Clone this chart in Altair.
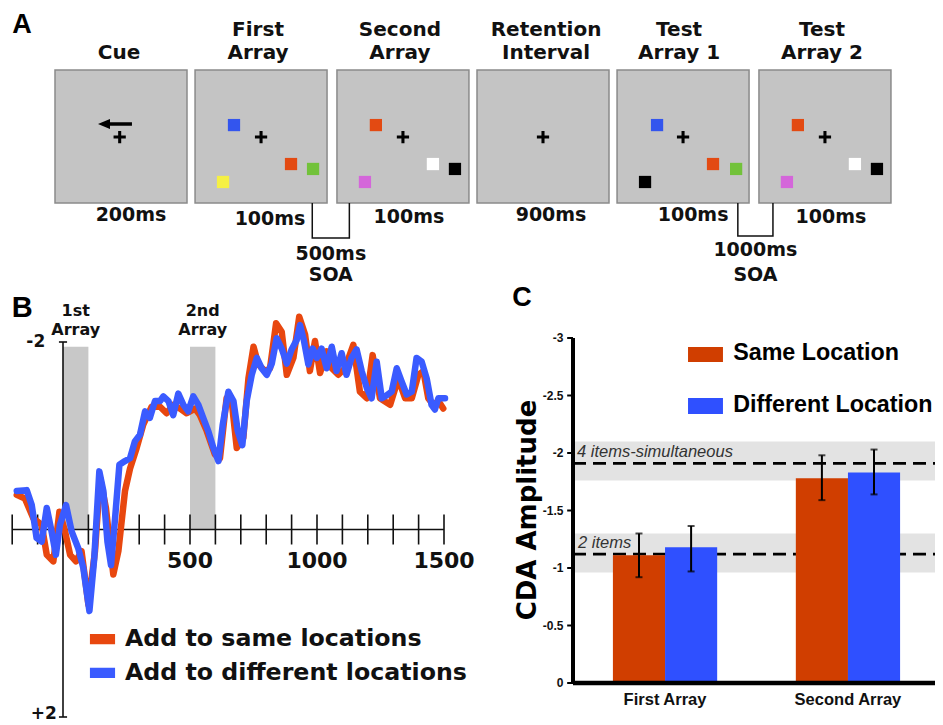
import altair as alt
import pandas as pd

# ======================= DATA =======================
# ---- Panel A: task schematic (box units: 1 = one frame width) ----
frame_left = [0.0, 1.061, 2.136, 3.197, 4.258, 5.333]
frame_title_top = ["", "First", "Second", "Retention", "Test", "Test"]
frame_title_bottom = ["Cue", "Array", "Array", "Interval", "Array 1", "Array 2"]
frame_title_rx = [0.485, 0.477, 0.477, 0.523, 0.470, 0.477]
frame_duration = ["200ms", "100ms", "100ms", "900ms", "100ms", "100ms"]
duration_rx = [0.576, 0.568, 0.545, 0.561, 0.576, 0.545]
duration_ry = [1.090, 1.124, 1.109, 1.087, 1.087, 1.105]

item_frame = [1, 1, 1, 1, 2, 2, 2, 2, 4, 4, 4, 4, 5, 5, 5, 5]
item_rx = [0.295, 0.727, 0.894, 0.212, 0.295, 0.727, 0.894, 0.212,
           0.303, 0.727, 0.902, 0.212, 0.295, 0.727, 0.894, 0.212]
item_ry = [0.414, 0.707, 0.744, 0.842, 0.414, 0.707, 0.744, 0.842,
           0.414, 0.707, 0.744, 0.842, 0.414, 0.707, 0.744, 0.842]
item_color = ["#3355EE", "#E34A12", "#72C23A", "#F5F044",
              "#E34A12", "#FFFFFF", "#000000", "#D466DA",
              "#3355EE", "#E34A12", "#72C23A", "#000000",
              "#E34A12", "#FFFFFF", "#000000", "#D466DA"]
fixation_rx = [0.49, 0.5, 0.5, 0.5, 0.5, 0.5]
fixation_ry = [0.504, 0.504, 0.504, 0.504, 0.504, 0.504]
cue_head_rx, cue_shaft_rx, cue_tail_rx, cue_arrow_ry = 0.371, 0.40, 0.583, 0.406

soa_left_frame = [1, 4]
soa_left_rx = [0.888, 0.915]
soa_right_frame = [2, 5]
soa_right_rx = [0.094, 0.106]
soa_bottom_ry = [1.263, 1.248]
soa_label_top = ["500ms", "1000ms"]
soa_label_bottom = ["SOA", "SOA"]
soa_label_ry_top = [1.380, 1.357]
soa_label_ry_bottom = [1.545, 1.538]

# ---- Panel B: CDA waveforms (ms, microvolts; negative up) ----
diff_t = [-182, -143, -123, -104, -84, -64, -45, -28, -12, 12, 34, 60, 80, 104, 123, 143,
          159, 175, 189, 205, 222, 244, 264, 283, 303, 323, 342, 362, 382, 395, 415, 434,
          454, 474, 493, 513, 533, 552, 572, 592, 612, 629, 651, 671, 688, 706, 723, 743,
          763, 782, 802, 822, 841, 861, 881, 900, 920, 933, 949, 966, 983, 999, 1018, 1038,
          1058, 1077, 1097, 1116, 1136, 1156, 1176, 1196, 1215, 1235, 1255, 1274, 1294, 1314,
          1333, 1353, 1373, 1392, 1412, 1432, 1451, 1464, 1478, 1504]
diff_v = [-0.41, -0.42, -0.26, 0.09, 0.13, -0.23, 0.02, 0.27, -0.05, -0.26, 0.02, 0.20, 0.41,
          0.87, 0.31, -0.62, -0.41, 0.13, 0.38, -0.12, -0.69, -0.73, -0.76, -0.94, -1.01, -1.26,
          -1.19, -1.37, -1.37, -1.42, -1.37, -1.22, -1.45, -1.33, -1.26, -1.42, -1.33, -1.19,
          -1.05, -0.87, -0.73, -1.12, -1.47, -1.37, -1.05, -0.90, -1.37, -1.65, -1.83, -1.72,
          -1.65, -1.77, -2.04, -1.93, -1.77, -1.92, -2.02, -2.18, -2.01, -1.76, -1.93, -1.83,
          -1.93, -1.72, -1.95, -1.69, -1.88, -1.65, -1.83, -1.92, -1.69, -1.51, -1.40, -1.79,
          -1.40, -1.43, -1.47, -1.72, -1.58, -1.44, -1.47, -1.83, -1.79, -1.61, -1.33, -1.28,
          -1.40, -1.40]
same_t = [-182, -150, -117, -84, -64, -38, -14, 8, 28, 51, 73, 100, 126, 146, 169, 198, 218,
          244, 264, 290, 316, 349, 382, 408, 434, 461, 487, 520, 539, 566, 598, 618, 644, 664,
          684, 710, 730, 750, 769, 796, 815, 839, 861, 881, 907, 930, 953, 972, 992, 1012,
          1038, 1058, 1084, 1110, 1143, 1169, 1196, 1219, 1248, 1288, 1320, 1347, 1373, 1399,
          1419, 1438, 1458, 1478, 1497]
same_v = [-0.37, -0.33, -0.12, -0.05, 0.27, 0.34, -0.19, 0.02, 0.27, 0.34, 0.23, 0.80, 0.23,
          -0.55, -0.23, 0.48, 0.23, -0.41, -0.65, -0.87, -1.12, -1.31, -1.31, -1.24, -1.33,
          -1.29, -1.24, -1.29, -1.22, -1.05, -0.80, -0.76, -1.40, -1.37, -0.87, -0.98, -1.61,
          -1.95, -1.76, -1.69, -1.72, -2.20, -2.11, -1.65, -1.83, -2.27, -2.08, -1.69, -2.01,
          -1.67, -1.90, -1.72, -1.65, -1.72, -1.97, -1.47, -1.40, -1.86, -1.40, -1.33, -1.61,
          -1.40, -1.40, -1.65, -1.69, -1.40, -1.33, -1.37, -1.29]
b_ticks = [-200, -100, 0, 100, 200, 300, 400, 500, 600, 700, 800, 900, 1000, 1100, 1200,
           1300, 1400, 1500]
b_tick_labels = [500, 1000, 1500]
shade_start = [0, 500]
shade_end = [100, 600]
shade_label_top = ["1st", "2nd"]
shade_label_bottom = ["Array", "Array"]
b_legend_labels = ["Add to same locations", "Add to different locations"]
b_legend_colors = ["#E8470F", "#3A5BFF"]
b_legend_v = [1.17, 1.53]

# ---- Panel C: CDA amplitude bars ----
arrays = ["First Array", "Second Array"]
conditions = ["Same Location", "Different Location"]
bar_array = ["First Array", "First Array", "Second Array", "Second Array"]
bar_condition = ["Same Location", "Different Location", "Same Location", "Different Location"]
cda_mean = [-1.11, -1.18, -1.78, -1.83]
cda_err_top = [-1.30, -1.365, -1.98, -2.03]
cda_err_bottom = [-0.92, -0.97, -1.59, -1.64]
cda_colors = ["#D03E00", "#2F50FF"]
ref_labels = ["4 items-simultaneous", "2 items"]
ref_mean = [-1.91, -1.12]
ref_band_top = [-2.10, -1.30]
ref_band_bottom = [-1.76, -0.96]
ref_label_v = [-1.965, -1.174]
c_ticks = [0, -0.5, -1, -1.5, -2, -2.5, -3]
c_tick_labels = ["0", "-0.5", "-1", "-1.5", "-2", "-2.5", "-3"]

# ======================= LAYOUT (page px -> chart px) =======================
W, H = 927, 717
M = 8


def X(v):
    return v - M


def Y(v):
    return v - M


def lin(domain, rng):
    return alt.Scale(domain=domain, range=rng, nice=False, zero=False)


XA = lin([0, 1], [X(55), X(187)])
YA = lin([0, 1], [Y(70), Y(203)])
XB = lin([0, 1500], [X(63), X(444)])
YB = lin([-2, 2], [Y(342), Y(717)])
FC = lin([0, 1], [X(573), X(937)])
YC = lin([-3, 0], [Y(338), Y(683)])
BC = alt.Scale(type="band", domain=arrays, range=[X(574.5), X(938.5)],
               paddingInner=0.43, paddingOuter=0.21)
OC = alt.Scale(type="band", domain=conditions, paddingInner=0, paddingOuter=0)


def qx(f, s):
    return alt.X(f, type="quantitative", scale=s, axis=None)


def qy(f, s):
    return alt.Y(f, type="quantitative", scale=s, axis=None)


BOLD = "DejaVu Sans"
NARROW = "Liberation Sans, Arial, sans-serif"

layers = []

# ---------------- Panel A ----------------
fr = pd.DataFrame({"left": frame_left, "t1": frame_title_top, "t2": frame_title_bottom,
                   "trx": frame_title_rx, "dur": frame_duration,
                   "drx": duration_rx, "dry": duration_ry,
                   "fx": fixation_rx, "fy": fixation_ry})
fr["right"] = fr["left"] + 1
fr["top"] = 0.0
fr["bottom"] = 1.0
fr["tx"] = fr["left"] + fr["trx"]
fr["dx"] = fr["left"] + fr["drx"]
fr["cx"] = fr["left"] + fr["fx"]
fr["y1"] = -0.301
fr["y2"] = -0.128

layers.append(alt.Chart(fr).mark_rect(fill="#C4C4C4", stroke="#8A8A8A", strokeWidth=1.5).encode(
    x=qx("left", XA), x2="right", y=qy("top", YA), y2="bottom"))
layers.append(alt.Chart(fr).mark_text(font=BOLD, fontWeight="bold", fontSize=20, align="center",
                                      baseline="middle", color="#111").encode(
    x=qx("tx", XA), y=qy("y1", YA), text="t1:N"))
layers.append(alt.Chart(fr).mark_text(font=BOLD, fontWeight="bold", fontSize=20, align="center",
                                      baseline="middle", color="#111").encode(
    x=qx("tx", XA), y=qy("y2", YA), text="t2:N"))
layers.append(alt.Chart(fr).mark_text(font=BOLD, fontWeight="bold", fontSize=19, align="center",
                                      baseline="middle", color="#111").encode(
    x=qx("dx", XA), y=qy("dry", YA), text="dur:N"))
CROSS = "M-1,-0.25H1V0.25H-1Z M-0.25,-1H0.25V1H-0.25Z"
layers.append(alt.Chart(fr).mark_point(shape=CROSS, filled=True, size=150, color="#000",
                                       opacity=1, strokeWidth=0).encode(
    x=qx("cx", XA), y=qy("fy", YA)))

it = pd.DataFrame({"f": item_frame, "rx": item_rx, "ry": item_ry, "col": item_color})
it["x"] = [frame_left[f] for f in it["f"]] + it["rx"]
layers.append(alt.Chart(it).mark_point(shape="square", filled=True, size=150, opacity=1,
                                       strokeWidth=0).encode(
    x=qx("x", XA), y=qy("ry", YA), color=alt.Color("col:N", scale=None)))

cue = pd.DataFrame({"hx": [frame_left[0] + cue_head_rx], "sx": [frame_left[0] + cue_shaft_rx],
                    "ex": [frame_left[0] + cue_tail_rx], "y": [cue_arrow_ry]})
layers.append(alt.Chart(cue).mark_rule(strokeWidth=3.5, color="#000").encode(
    x=qx("sx", XA), x2="ex", y=qy("y", YA)))
layers.append(alt.Chart(cue).mark_point(shape="M-1,0L1,-0.85L1,0.85Z", filled=True, size=144,
                                        color="#000", opacity=1, strokeWidth=0).encode(
    x=qx("hx", XA), y=qy("y", YA)))

rows = []
for k in range(len(soa_left_frame)):
    lx = frame_left[soa_left_frame[k]] + soa_left_rx[k]
    rx = frame_left[soa_right_frame[k]] + soa_right_rx[k]
    for s, (xx, yy) in enumerate([(lx, 1.0), (lx, soa_bottom_ry[k]), (rx, soa_bottom_ry[k]), (rx, 1.0)]):
        rows.append({"b": k, "s": s, "x": xx, "y": yy})
br = pd.DataFrame(rows)
layers.append(alt.Chart(br).mark_line(color="#111", strokeWidth=1.5, strokeJoin="miter").encode(
    x=qx("x", XA), y=qy("y", YA), detail="b:N", order="s:Q"))
soa = pd.DataFrame({"x": [(frame_left[soa_left_frame[k]] + soa_left_rx[k] +
                           frame_left[soa_right_frame[k]] + soa_right_rx[k]) / 2
                          for k in range(len(soa_left_frame))],
                    "t1": soa_label_top, "t2": soa_label_bottom,
                    "y1": soa_label_ry_top, "y2": soa_label_ry_bottom})
for t, yy in (("t1", "y1"), ("t2", "y2")):
    layers.append(alt.Chart(soa).mark_text(font=BOLD, fontWeight="bold", fontSize=19, align="center",
                                           baseline="middle", color="#111").encode(
        x=qx("x", XA), y=qy(yy, YA), text=f"{t}:N"))
layers.append(alt.Chart(pd.DataFrame({"x": [-0.25], "y": [-0.278], "t": ["A"]})).mark_text(
    font="Liberation Sans", fontWeight="bold", fontSize=27, align="center", baseline="alphabetic",
    color="#000").encode(x=qx("x", XA), y=qy("y", YA), text="t:N"))

# ---------------- Panel B ----------------
sh = pd.DataFrame({"a": shade_start, "b": shade_end, "top": [-1.95, -1.95], "bot": [0, 0],
                   "l1": shade_label_top, "l2": shade_label_bottom})
sh["mid"] = (sh["a"] + sh["b"]) / 2
sh["y1"] = -2.33
sh["y2"] = -2.13
layers.append(alt.Chart(sh).mark_rect(fill="#C8C8C8").encode(
    x=qx("a", XB), x2="b", y=qy("top", YB), y2="bot"))
for t, yy in (("l1", "y1"), ("l2", "y2")):
    layers.append(alt.Chart(sh).mark_text(font=BOLD, fontWeight="bold", fontSize=16, align="center",
                                          baseline="middle", color="#111").encode(
        x=qx("mid", XB), y=qy(yy, YB), text=f"{t}:N"))

axb = pd.DataFrame({"a": [b_ticks[0]], "b": [b_ticks[-1]], "v": [0]})
layers.append(alt.Chart(axb).mark_rule(color="#111", strokeWidth=1.6).encode(
    x=qx("a", XB), x2="b", y=qy("v", YB)))
tk = pd.DataFrame({"t": b_ticks, "lo": -0.16, "hi": 0.16})
layers.append(alt.Chart(tk).mark_rule(color="#111", strokeWidth=1.6).encode(
    x=qx("t", XB), y=qy("lo", YB), y2="hi"))
tl = pd.DataFrame({"t": b_tick_labels, "v": 0.34})
layers.append(alt.Chart(tl).mark_text(font=BOLD, fontWeight="bold", fontSize=22, align="center",
                                      baseline="middle", color="#111").encode(
    x=qx("t", XB), y=qy("v", YB), text="t:N"))
yax = pd.DataFrame({"t": [0], "lo": [-2], "hi": [2]})
layers.append(alt.Chart(yax).mark_rule(color="#111", strokeWidth=1.6).encode(
    x=qx("t", XB), y=qy("lo", YB), y2="hi"))
caps = pd.DataFrame({"a": [-16, -16], "b": [16, 16], "v": [-2, 2]})
layers.append(alt.Chart(caps).mark_rule(color="#111", strokeWidth=1.6).encode(
    x=qx("a", XB), x2="b", y=qy("v", YB)))
ylab = pd.DataFrame({"t": [-70, -24], "v": [-2.0, 1.97], "s": ["-2", "+2"]})
layers.append(alt.Chart(ylab).mark_text(font=BOLD, fontWeight="bold", fontSize=17, align="right",
                                        baseline="middle", color="#111").encode(
    x=qx("t", XB), y=qy("v", YB), text="s:N"))

for tt, vv, col in ((same_t, same_v, "#E8470F"), (diff_t, diff_v, "#3A5BFF")):
    layers.append(alt.Chart(pd.DataFrame({"t": tt, "v": vv})).mark_line(
        color=col, strokeWidth=6.5, strokeJoin="round", strokeCap="round").encode(
        x=qx("t", XB), y=qy("v", YB)))

lg = pd.DataFrame({"a": [106, 106], "b": [205, 205], "v": b_legend_v, "col": b_legend_colors,
                   "lab": b_legend_labels})
lg["lo"] = lg["v"] - 0.055
lg["hi"] = lg["v"] + 0.055
lg["tx"] = 244
layers.append(alt.Chart(lg).mark_rect().encode(
    x=qx("a", XB), x2="b", y=qy("lo", YB), y2="hi", color=alt.Color("col:N", scale=None)))
layers.append(alt.Chart(lg).mark_text(font=BOLD, fontWeight="bold", fontSize=23.7, align="left",
                                      baseline="middle", color="#111").encode(
    x=qx("tx", XB), y=qy("v", YB), text="lab:N"))
layers.append(alt.Chart(pd.DataFrame({"x": [-161], "y": [-2.36], "t": ["B"]})).mark_text(
    font="Liberation Sans", fontWeight="bold", fontSize=29, align="center", baseline="middle",
    color="#000").encode(x=qx("x", XB), y=qy("y", YB), text="t:N"))

# ---------------- Panel C ----------------
ref = pd.DataFrame({"lab": ref_labels, "m": ref_mean, "top": ref_band_top, "bot": ref_band_bottom,
                    "lv": ref_label_v, "a": 0.0, "b": 1.0, "lx": [0.011, 0.014]})
layers.append(alt.Chart(ref).mark_rect(fill="#E3E3E3").encode(
    x=qx("a", FC), x2="b", y=qy("top", YC), y2="bot"))
layers.append(alt.Chart(ref).mark_rule(color="#000", strokeWidth=2.8, strokeDash=[13, 7]).encode(
    x=qx("a", FC), x2="b", y=qy("m", YC)))
layers.append(alt.Chart(ref).mark_text(font=NARROW, fontStyle="italic", fontSize=16.5, align="left",
                                       baseline="alphabetic", color="#333").encode(
    x=qx("lx", FC), y=qy("lv", YC), text="lab:N"))

bars = pd.DataFrame({"arr": bar_array, "cond": bar_condition, "m": cda_mean,
                     "et": cda_err_top, "eb": cda_err_bottom, "z": 0.0})
cx = alt.X("arr:N", scale=BC, axis=None)
co = alt.XOffset("cond:N", scale=OC)
layers.append(alt.Chart(bars).mark_bar(strokeWidth=0).encode(
    x=cx, xOffset=co, y=qy("m", YC), y2="z",
    color=alt.Color("cond:N", scale=alt.Scale(domain=conditions, range=cda_colors), legend=None)))
layers.append(alt.Chart(bars).mark_rule(color="#000", strokeWidth=2).encode(
    x=cx, xOffset=co, y=qy("et", YC), y2="eb"))
for f in ("et", "eb"):
    layers.append(alt.Chart(bars).mark_tick(color="#000", thickness=2, size=7).encode(
        x=cx, xOffset=co, y=qy(f, YC)))

ax = pd.DataFrame({"a": [0.0], "b": [1.0], "v0": [0.0], "v1": [-3.0]})
layers.append(alt.Chart(ax).mark_rule(color="#000", strokeWidth=4).encode(
    x=qx("a", FC), y=qy("v0", YC), y2="v1"))
layers.append(alt.Chart(ax).mark_rule(color="#000", strokeWidth=4.5).encode(
    x=qx("a", FC), x2="b", y=qy("v0", YC)))
ct = pd.DataFrame({"v": c_ticks, "lab": c_tick_labels, "a": -0.016, "b": 0.0, "lx": -0.026})
layers.append(alt.Chart(ct).mark_rule(color="#000", strokeWidth=2).encode(
    x=qx("a", FC), x2="b", y=qy("v", YC)))
layers.append(alt.Chart(ct).mark_text(font=NARROW, fontWeight="bold", fontSize=12, align="right",
                                      baseline="middle", color="#111").encode(
    x=qx("lx", FC), y=qy("v", YC), text="lab:N"))
xl = pd.DataFrame({"arr": arrays, "v": [0.152, 0.152]})
layers.append(alt.Chart(xl).mark_text(font=NARROW, fontWeight="bold", fontSize=16.5, align="center",
                                      baseline="middle", color="#111").encode(
    x=alt.X("arr:N", scale=BC, axis=None), y=qy("v", YC), text="arr:N"))
layers.append(alt.Chart(pd.DataFrame({"x": [-0.124], "y": [-1.504], "t": ["CDA Amplitude"]})).mark_text(
    font=BOLD, fontWeight="bold", fontSize=26, align="center", baseline="middle", angle=270,
    color="#000").encode(x=qx("x", FC), y=qy("y", YC), text="t:N"))

cl = pd.DataFrame({"lab": conditions, "col": cda_colors, "a": 0.316, "b": 0.412,
                   "top": [-2.922, -2.478], "bot": [-2.791, -2.339], "tv": [-2.87, -2.417],
                   "tx": 0.44})
layers.append(alt.Chart(cl).mark_rect().encode(
    x=qx("a", FC), x2="b", y=qy("top", YC), y2="bot", color=alt.Color("col:N", scale=None)))
layers.append(alt.Chart(cl).mark_text(font=NARROW, fontWeight="bold", fontSize=23.3, align="left",
                                      baseline="middle", color="#000").encode(
    x=qx("tx", FC), y=qy("tv", YC), text="lab:N"))
layers.append(alt.Chart(pd.DataFrame({"x": [-0.14], "y": [-3.35], "t": ["C"]})).mark_text(
    font="Liberation Sans", fontWeight="bold", fontSize=27, align="center", baseline="middle",
    color="#000").encode(x=qx("x", FC), y=qy("y", YC), text="t:N"))

chart = alt.layer(*layers).resolve_scale(
    x="independent", y="independent", xOffset="independent", color="independent"
).properties(
    width=W, height=H, padding=0, autosize=alt.AutoSizeParams(type="none"),
    background="white"
).configure_view(stroke=None)

chart.save("out.html", embed_options={"renderer": "svg", "actions": False})
